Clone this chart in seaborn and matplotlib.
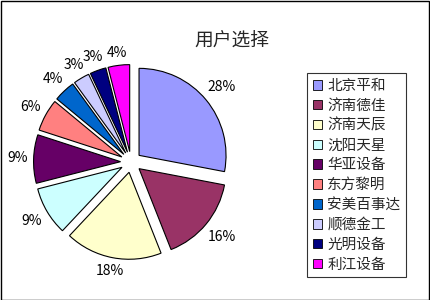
import matplotlib
matplotlib.use("Agg")
import matplotlib.pyplot as plt
from matplotlib.patches import Rectangle
import numpy as np
import seaborn as sns

# Share of customers choosing each supplier (%)
suppliers = ["北京平和", "济南德佳", "济南天辰", "沈阳天星", "华亚设备",
             "东方黎明", "安美百事达", "顺德金工", "光明设备", "利江设备"]
shares = [28, 16, 18, 9, 9, 6, 4, 3, 3, 4]
slice_colors = ["#9999FF", "#993366", "#FFFFCC", "#CCFFFF", "#660066",
                "#FF8080", "#0066CC", "#CCCCFF", "#000080", "#FF00FF"]
title = "用户选择"

sns.set_style("white")
plt.rcParams["font.family"] = ["Noto Sans CJK SC", "DejaVu Sans"]

W, H = 430, 300
fig = plt.figure(figsize=(W / 100, H / 100), dpi=100)
fig.patch.set_facecolor("white")

# axes covering the whole figure; one data unit = pie radius in pixels
R = 87.0
cx, cy = 131.0, 138.0
EXPLODE = 0.12
ax = fig.add_axes([0, 0, 1, 1])
palette = sns.color_palette(slice_colors)

wedges, texts, autotexts = ax.pie(
    shares,
    colors=palette,
    startangle=90,
    counterclock=False,
    explode=[EXPLODE] * len(shares),
    autopct="%.0f%%",
    pctdistance=1.22,
    wedgeprops=dict(edgecolor="black", linewidth=0.8),
    textprops=dict(fontsize=10, color="black"),
    radius=1.0,
)
ax.set_aspect("auto")
ax.set_xlim(-cx / R, (W - cx) / R)
ax.set_ylim(-cy / R, (H - cy) / R)
ax.axis("off")

# place each percentage just outside its wedge, keeping a constant gap
# between the arc and the nearest side of the label box
renderer = fig.canvas.get_renderer()
gap = 6.0 / R
for wedge, txt in zip(wedges, autotexts):
    mid = np.deg2rad((wedge.theta1 + wedge.theta2) / 2)
    d = np.array([np.cos(mid), np.sin(mid)])
    bb = txt.get_window_extent(renderer)
    half_w, half_h = bb.width / 2 / R, bb.height / 2 / R * 0.75
    support = abs(d[0]) * half_w + abs(d[1]) * half_h
    cxw, cyw = wedge.center
    dist = wedge.r + gap + support
    txt.set_position((cxw + dist * d[0], cyw + dist * d[1]))
    txt.set_ha("center")
    txt.set_va("center")

fig.text(232 / W, 1 - 40 / H, title, ha="center", va="center", fontsize=13.5)

leg = fig.legend(
    wedges, suppliers,
    loc="upper left",
    bbox_to_anchor=(307 / W, 1 - 73 / H),
    frameon=True, fancybox=False,
    fontsize=10.5,
    handlelength=0.65, handleheight=0.65,
    handletextpad=0.35, labelspacing=0.40,
    borderpad=0.4, borderaxespad=0.0,
)
frame = leg.get_frame()
frame.set_edgecolor("black")
frame.set_linewidth(0.8)
for h in leg.legend_handles:
    h.set_edgecolor("black")
    h.set_linewidth(0.6)

# outer chart border
fig.patches.append(Rectangle((0.5 / W, 0.5 / H), (W - 1.5) / W, (H - 1.5) / H,
                             transform=fig.transFigure, fill=False,
                             edgecolor="black", linewidth=1.0))

fig.savefig("out.png", dpi=100)
